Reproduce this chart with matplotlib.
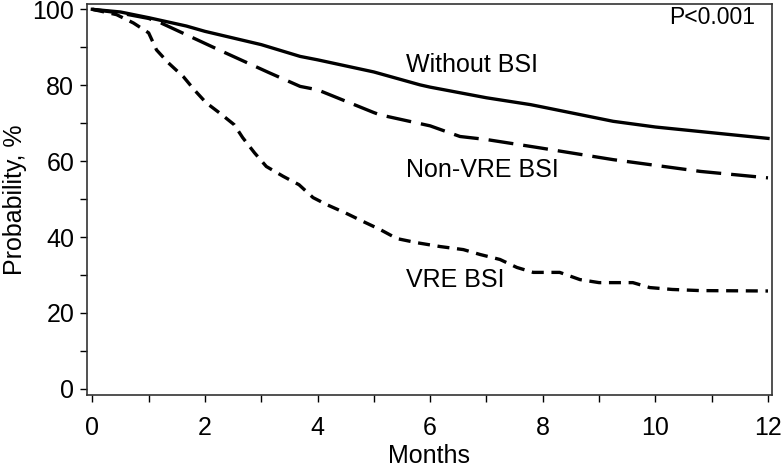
import matplotlib.pyplot as plt
from matplotlib.ticker import MultipleLocator

plt.rcParams['font.family'] = ['Liberation Sans', 'DejaVu Sans']

# Kaplan-Meier style survival estimates
months_without = [0, 0.5, 1, 1.67, 2, 3, 3.69, 4, 5, 5.82, 6, 7, 7.78, 7.95, 9.25, 10, 11, 12]
prob_without = [100, 99.3, 97.8, 95.6, 94.2, 90.7, 87.6, 86.7, 83.5, 80.1, 79.5, 76.7, 74.9, 74.4, 70.5, 69.0, 67.5, 66.0]

months_nonvre = [0, 0.5, 1.0, 1.22, 1.67, 2.25, 3.14, 3.69, 4, 5, 5.11, 6, 6.53, 7, 7.95, 9.25, 10.8, 12]
prob_nonvre = [100, 99.0, 97.6, 96.4, 93.3, 89.3, 83.3, 79.7, 78.8, 72.8, 72.2, 69.3, 66.5, 65.7, 63.5, 60.4, 57.3, 55.6]

months_vre = [0, 0.43, 0.73, 1.0, 1.14, 1.35, 1.62, 1.81, 2.02, 2.26, 2.52, 2.67, 2.88,
              3.09, 3.39, 3.67, 3.92, 4.17, 4.49, 4.81, 5.11, 5.41, 5.77, 6.18, 6.59,
              6.89, 7.24, 7.54, 7.83, 8.3, 8.66, 9.0, 9.6, 9.9, 10.3, 10.8, 12]
prob_vre = [100, 98.6, 96.4, 93.8, 89.3, 85.9, 82.2, 78.8, 75.4, 72.7, 69.6, 66.2, 62.2,
            58.6, 56.0, 53.8, 50.4, 48.5, 46.4, 44.1, 42.0, 39.6, 38.5, 37.5, 36.7,
            35.4, 34.1, 32.0, 30.7, 30.7, 28.8, 28.0, 28.0, 26.7, 26.2, 25.9, 25.8]

fig = plt.figure(figsize=(7.84, 4.67), dpi=100)
ax = fig.add_axes([0.1106, 0.1542, 0.874, 0.8372])

ax.plot(months_without, prob_without, color='black', lw=2.4, ls='-')
ax.plot(months_nonvre, prob_nonvre, color='black', lw=2.4, ls=(0, (7.5, 3.0)))
ax.plot(months_vre, prob_vre, color='black', lw=2.4, ls=(0, (3.6, 2.3)))

ax.text(5.57, 85.4, 'Without BSI', fontsize=18, va='center', ha='left')
ax.text(5.57, 57.8, 'Non-VRE BSI', fontsize=18, va='center', ha='left')
ax.text(5.57, 28.8, 'VRE BSI', fontsize=18, va='center', ha='left')
ax.text(11.77, 97.8, 'P<0.001', fontsize=16.5, va='center', ha='right')

ax.set_xlim(-0.1, 12.07)
ax.set_ylim(-1.6, 101.4)
ax.xaxis.set_major_locator(MultipleLocator(2))
ax.xaxis.set_minor_locator(MultipleLocator(1))
ax.yaxis.set_major_locator(MultipleLocator(20))
ax.yaxis.set_minor_locator(MultipleLocator(10))
ax.tick_params(which='both', direction='out', length=5, width=1, labelsize=18, colors='black')
ax.tick_params(axis='x', pad=10)
ax.tick_params(axis='y', pad=4)
for s in ax.spines.values():
    s.set_linewidth(1.2)
    s.set_color('#333333')

ax.set_xlabel('Months', fontsize=18, labelpad=3)
ax.set_ylabel('Probability, %', fontsize=18, labelpad=4)

fig.savefig('out.png', dpi=100)
